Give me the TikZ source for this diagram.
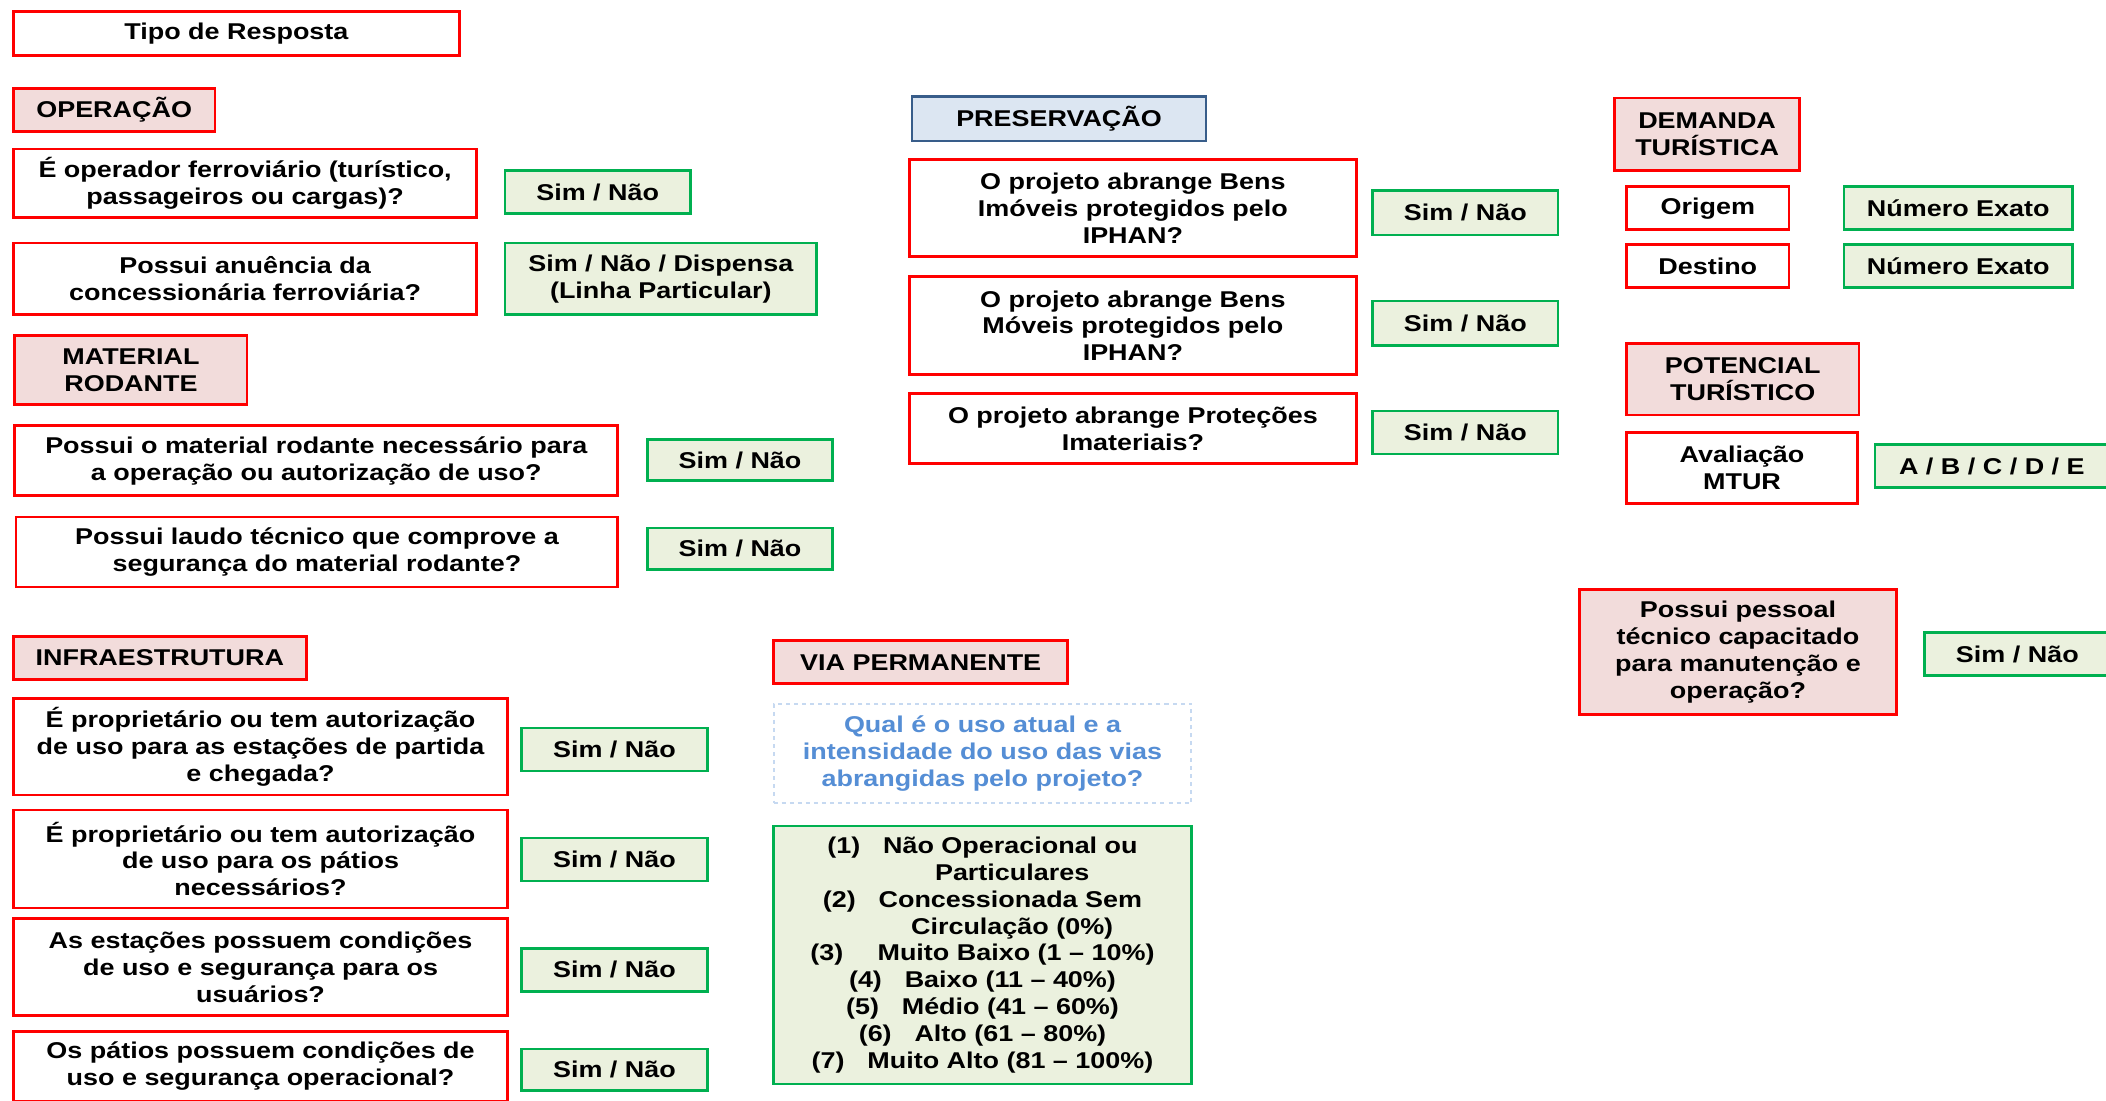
\documentclass[tikz,border=0pt]{standalone}
\usepackage{fontspec}
\setmainfont{Liberation Sans}[FakeStretch=1.18]
\definecolor{boxred}{HTML}{FF0000}
\definecolor{boxpink}{HTML}{F2DCDB}
\definecolor{boxgreen}{HTML}{00B050}
\definecolor{boxolive}{HTML}{EBF1DE}
\definecolor{headblue}{HTML}{385D8A}
\definecolor{headfill}{HTML}{DCE6F2}
\definecolor{hintline}{HTML}{C6D9F1}
\definecolor{hinttext}{HTML}{558ED5}

\begin{document}
\begin{tikzpicture}[x=1pt, y=-1pt,
  every node/.style={inner sep=0, align=center, font=\fontsize{17}{20}\selectfont\bfseries},
  ask/.style={draw=boxred, line width=2pt, fill=white},
  head/.style={draw=boxred, line width=2pt, fill=boxpink},
  ans/.style={draw=boxgreen, line width=2pt, fill=boxolive, minimum width=138, minimum height=32},
  bluehead/.style={draw=headblue, line width=2pt, fill=headfill},
  hint/.style={draw=hintline, line width=1.6pt, dashed, text=hinttext}]
\clip (0,0) rectangle (1568,819);
\fill [white] (0,0) rectangle (1568,819);

\node [ask, minimum width=332, minimum height=33] (tipo) at (176,25) {Tipo de Resposta};

% operacao
\node [head, minimum width=150, minimum height=32] (operacao) at (85,82) {OPERAÇÃO};
\node [ask, minimum width=345, minimum height=51] (opq1) at (182.5,136.5) {É operador ferroviário (turístico,\\passageiros ou cargas)?};
\node [ans] (opa1) at (445,143) {Sim / Não};
\node [ask, minimum width=345, minimum height=53] (opq2) at (182.5,207.5) {Possui anuência da\\concessionária ferroviária?};
\node [ans, minimum width=232, minimum height=53] (opa2) at (492,207.5) {Sim / Não / Dispensa\\(Linha Particular)};

% material rodante
\node [head, minimum width=173, minimum height=51] (material) at (97.5,275.5) {MATERIAL\\RODANTE};
\node [ask, minimum width=449, minimum height=52] (matq1) at (235.5,343) {Possui o material rodante necessário para\\a operação ou autorização de uso?};
\node [ans, minimum height=31] (mata1) at (551,342.5) {Sim / Não};
\node [ask, minimum width=448, minimum height=52] (matq2) at (236,411) {Possui laudo técnico que comprove a\\segurança do material rodante?};
\node [ans, minimum height=31] (mata2) at (551,408.5) {Sim / Não};

% infraestrutura
\node [head, minimum width=218, minimum height=32] (infra) at (119,490) {INFRAESTRUTURA};
\node [ask, minimum width=368, minimum height=72] (infq1) at (194,556) {É proprietário ou tem autorização\\de uso para as estações de partida\\e chegada?};
\node [ans] (infa1) at (457.5,558) {Sim / Não};
\node [ask, minimum width=368, minimum height=73] (infq2) at (194,639.5) {É proprietário ou tem autorização\\de uso para os pátios\\necessários?};
\node [ans] (infa2) at (457.5,640) {Sim / Não};
\node [ask, minimum width=368, minimum height=72] (infq3) at (194,720) {As estações possuem condições\\de uso e segurança para os\\usuários?};
\node [ans] (infa3) at (457.5,722) {Sim / Não};
\node [ask, minimum width=368, minimum height=52] (infq4) at (194,794) {Os pátios possuem condições de\\uso e segurança operacional?};
\node [ans, minimum height=31] (infa4) at (457.5,796.5) {Sim / Não};

% via permanente
\node [head, minimum width=219, minimum height=32] (via) at (685.5,493) {VIA PERMANENTE};
\node [hint, minimum width=311, minimum height=74] (viahint) at (731.5,561) {Qual é o uso atual e a\\intensidade do uso das vias\\abrangidas pelo projeto?};
\node [ans, minimum width=311, minimum height=192] (vialist) at (731.5,711) {(1)\quad Não Operacional ou\\\hspace*{2.6em}Particulares\\(2)\quad Concessionada Sem\\\hspace*{2.6em}Circulação (0\%)\\(3)\quad\enspace Muito Baixo (1 -- 10\%)\\(4)\quad Baixo (11 -- 40\%)\\(5)\quad Médio (41 -- 60\%)\\(6)\quad Alto (61 -- 80\%)\\(7)\quad Muito Alto (81 -- 100\%)};

% preservacao
\node [bluehead, minimum width=219, minimum height=33] (preserv) at (788.5,88.5) {PRESERVAÇÃO};
\node [ask, minimum width=333, minimum height=72] (preq1) at (843.5,155) {O projeto abrange Bens\\Imóveis protegidos pelo\\IPHAN?};
\node [ans, minimum height=33] (prea1) at (1091,158.5) {Sim / Não};
\node [ask, minimum width=333, minimum height=73] (preq2) at (843.5,242.5) {O projeto abrange Bens\\Móveis protegidos pelo\\IPHAN?};
\node [ans, minimum height=33] (prea2) at (1091,240.5) {Sim / Não};
\node [ask, minimum width=333, minimum height=52] (preq3) at (843.5,319) {O projeto abrange Proteções\\Imateriais?};
\node [ans] (prea3) at (1091,322) {Sim / Não};

% demanda e potencial turistico
\node [head, minimum width=138, minimum height=54] (demanda) at (1271,100) {DEMANDA\\TURÍSTICA};
\node [ask, minimum width=121, minimum height=32] (origem) at (1271.5,155) {Origem};
\node [ans, minimum width=170] (numo) at (1458,155) {Número Exato};
\node [ask, minimum width=121, minimum height=32] (destino) at (1271.5,198) {Destino};
\node [ans, minimum width=170] (numd) at (1458,198) {Número Exato};
\node [head, minimum width=173, minimum height=53] (potencial) at (1297.5,282.5) {POTENCIAL\\TURÍSTICO};
\node [ask, minimum width=172, minimum height=53] (avaliacao) at (1297,348.5) {Avaliação\\MTUR};
\node [ans, minimum width=174] (abcde) at (1483,347) {A / B / C / D / E};
\node [head, minimum width=236, minimum height=93] (pessoal) at (1294,485.5) {Possui pessoal\\técnico capacitado\\para manutenção e\\operação?};
\node [ans] (pesa) at (1502,487) {Sim / Não};

\end{tikzpicture}
\end{document}
